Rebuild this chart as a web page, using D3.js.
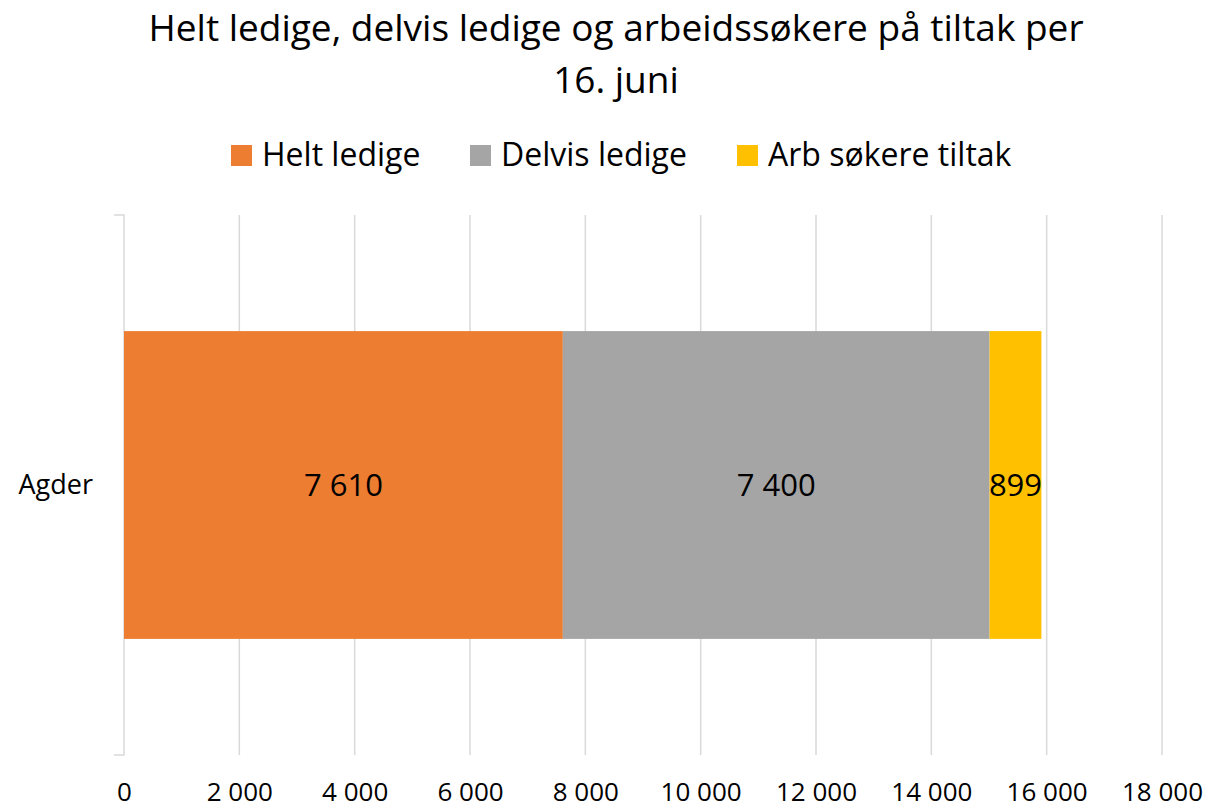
<!DOCTYPE html>
<html>
<head>
<meta charset="utf-8">
<script src="https://cdn.jsdelivr.net/npm/d3@7"></script>
<style>
  body { margin: 0; background: #fff; }
  svg text { font-family: "Open Sans", "Liberation Sans", sans-serif; fill: #000; }
</style>
</head>
<body>
<div id="chart"></div>
<script>
// data
const categories = ["Agder"];
const seriesNames = ["Helt ledige", "Delvis ledige", "Arb søkere tiltak"];
const seriesColors = ["#ED7D31", "#A5A5A5", "#FFC000"];
const helt = [7610];
const delvis = [7400];
const tiltak = [899];
const xTicks = [0, 2000, 4000, 6000, 8000, 10000, 12000, 14000, 16000, 18000];

const svgWidth = 1211, svgHeight = 809;
const margin = { top: 215, right: 49, bottom: 54, left: 124 };
const width = svgWidth - margin.left - margin.right;
const height = svgHeight - margin.top - margin.bottom;

const svg = d3.select("#chart").append("svg")
    .attr("width", svgWidth)
    .attr("height", svgHeight);

// title
const title = svg.append("text")
    .attr("text-anchor", "middle")
    .style("font-size", "37px");
title.append("tspan").attr("x", 616).attr("y", 41)
    .text("Helt ledige, delvis ledige og arbeidssøkere på tiltak per");
title.append("tspan").attr("x", 616).attr("y", 93).text("16. juni");

// legend
const legendX = [231, 470, 737];
const legend = svg.selectAll(".legend")
    .data(seriesNames)
    .join("g")
    .attr("class", "legend")
    .attr("transform", (d, i) => `translate(${legendX[i]},145)`);
legend.append("rect")
    .attr("width", 21).attr("height", 21)
    .attr("fill", (d, i) => seriesColors[i]);
legend.append("text")
    .attr("x", 31).attr("y", 21)
    .style("font-size", "32px")
    .text(d => d);

const chart = svg.append("g")
    .attr("transform", `translate(${margin.left},${margin.top})`);

const x = d3.scaleLinear().domain([0, 18000]).range([0, width]);
const y = d3.scaleBand().domain(categories).range([0, height]).paddingInner(0.43).paddingOuter(0.215);

// grid
chart.selectAll(".grid")
    .data(xTicks.slice(1))
    .join("line")
    .attr("x1", d => x(d)).attr("x2", d => x(d))
    .attr("y1", 0).attr("y2", height)
    .attr("stroke", "#d9d9d9")
    .attr("stroke-width", 1.5);

// x axis labels
const fmt = d => d3.format(",")(d).replace(/,/g, " ");
chart.append("g")
    .attr("transform", `translate(0,${height})`)
    .call(d3.axisBottom(x).tickValues(xTicks).tickFormat(fmt).tickSize(0).tickPadding(28))
    .call(g => g.select(".domain").remove())
    .call(g => g.selectAll("text").style("font-size", "26px").attr("font-family", null));

// y axis
chart.append("g")
    .call(d3.axisLeft(y).tickSize(0).tickPadding(31))
    .call(g => g.select(".domain").attr("stroke", "#d9d9d9").attr("stroke-width", 1.5)
        .attr("d", `M-10,0H0V${height}H-10`))
    .call(g => g.selectAll("text").style("font-size", "27px").attr("font-family", null));

// stacked bars
const rows = categories.map((c, i) => ({ cat: c, vals: [helt[i], delvis[i], tiltak[i]] }));
rows.forEach(r => {
    let acc = 0;
    r.vals.forEach((v, j) => {
        const x0 = acc;
        acc += v;
        chart.append("rect")
            .attr("x", x(x0))
            .attr("y", y(r.cat))
            .attr("width", x(acc) - x(x0))
            .attr("height", y.bandwidth())
            .attr("fill", seriesColors[j]);
        chart.append("text")
            .attr("x", (x(x0) + x(acc)) / 2)
            .attr("y", y(r.cat) + y.bandwidth() / 2)
            .attr("dy", "0.35em")
            .attr("text-anchor", "middle")
            .style("font-size", "31px")
            .text(fmt(v));
    });
});
</script>
</body>
</html>
